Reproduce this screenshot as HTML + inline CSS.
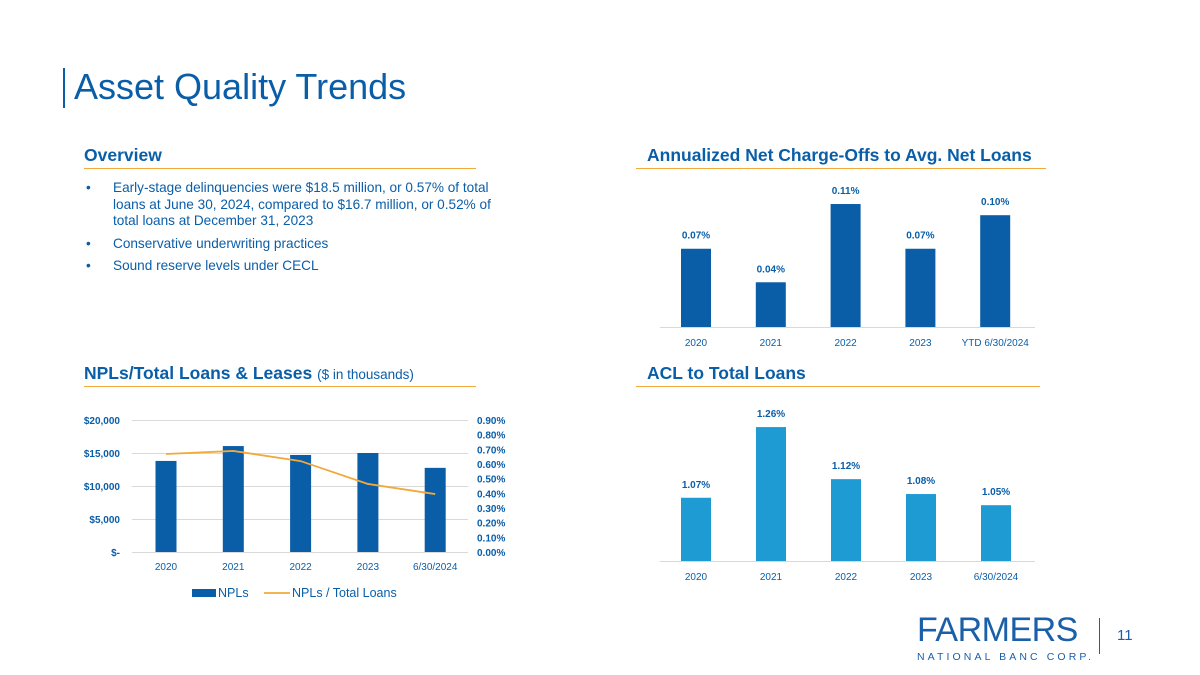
<!DOCTYPE html>
<html><head><meta charset="utf-8"><style>
body{margin:0;width:1200px;height:675px;background:#fff;font-family:"Liberation Sans",sans-serif;position:relative;overflow:hidden}
.a{position:absolute}
h1{position:absolute;left:74px;top:66px;margin:0;font-weight:normal;font-size:36px;color:#0a5ea8}
.sec{position:absolute;font-weight:bold;font-size:17.5px;color:#0a5ea8}
.rule{position:absolute;height:1px;background:#f2a93b}
ul{position:absolute;left:86px;top:180px;margin:0;padding:0;list-style:none;color:#0a5ea8;font-size:13.6px;width:430px}
li{position:relative;padding-left:27px;line-height:16.5px;margin-bottom:6px}
li:before{content:"•";position:absolute;left:0}
svg text{font-family:"Liberation Sans",sans-serif}
</style></head><body>
<div class="a" style="left:63px;top:68px;width:2px;height:40px;background:#0a5ea8"></div>
<h1>Asset Quality Trends</h1>
<div class="sec" style="left:84px;top:145px">Overview</div>
<div class="rule" style="left:84px;top:168px;width:392px"></div>
<ul>
<li>Early-stage delinquencies were $18.5 million, or 0.57% of total loans at June 30, 2024, compared to $16.7 million, or 0.52% of total loans at December 31, 2023</li>
<li>Conservative underwriting practices</li>
<li>Sound reserve levels under CECL</li>
</ul>
<div class="sec" style="left:647px;top:145px">Annualized Net Charge-Offs to Avg. Net Loans</div>
<div class="rule" style="left:636px;top:168px;width:410px"></div>
<div class="sec" style="left:84px;top:363px">NPLs/Total Loans &amp; Leases <span style="font-weight:normal;font-size:13.5px">($ in thousands)</span></div>
<div class="rule" style="left:84px;top:386px;width:392px"></div>
<div class="sec" style="left:647px;top:363px">ACL to Total Loans</div>
<div class="rule" style="left:636px;top:386px;width:404px"></div>
<svg class="a" style="left:0;top:0" width="1200" height="675" id="svg"></svg>
<div class="a" style="left:917px;top:612px;color:#1a5fa8">
<div style="font-size:34px;letter-spacing:-0.5px;line-height:36px">FARMERS</div>
<div style="font-size:10.5px;letter-spacing:3.1px;margin-top:3px">NATIONAL BANC CORP.</div></div>
<div class="a" style="left:1099px;top:618px;width:1px;height:36px;background:#1a5fa8"></div>
<div class="a" style="left:1117px;top:627px;font-size:15px;color:#1a5fa8">11</div>
<script>
const ncoCats=["2020","2021","2022","2023","YTD 6/30/2024"];
const ncoVals=[0.07,0.04,0.11,0.07,0.10];
const nplCats=["2020","2021","2022","2023","6/30/2024"];
const nplVals=[13800,16050,14700,15000,12750];
const nplRatio=[0.668,0.689,0.62,0.464,0.395];
const nplLeftTicks=["$-","$5,000","$10,000","$15,000","$20,000"];
const nplRightTicks=["0.00%","0.10%","0.20%","0.30%","0.40%","0.50%","0.60%","0.70%","0.80%","0.90%"];
const aclCats=["2020","2021","2022","2023","6/30/2024"];
const aclVals=[1.07,1.26,1.12,1.08,1.05];
const NS="http://www.w3.org/2000/svg",svg=document.getElementById('svg');
function mk(t,a,txt){const e=document.createElementNS(NS,t);for(const k in a)e.setAttribute(k,a[k]);if(txt!==undefined)e.textContent=txt;svg.appendChild(e);return e;}
const ncoX=i=>696+i*74.8, ncoY=v=>327-v*1118;
let e=mk('line',{x1:660,x2:1035,y1:327.5,y2:327.5,stroke:'#d9d9d9'});

ncoVals.forEach((v,i)=>{
 e=mk('rect',{x:ncoX(i)-15,y:ncoY(v),width:30,height:327-ncoY(v),fill:'#0a5ea8'});
 
 e=mk('text',{x:ncoX(i),y:ncoY(v)-10,'text-anchor':'middle','font-size':10,'font-weight':'bold',fill:'#0a5ea8'},v.toFixed(2)+'%');
 
 e=mk('text',{x:ncoX(i),y:346,'text-anchor':'middle','font-size':10,fill:'#0a5ea8'},ncoCats[i]);
 
});
const nX=i=>166+i*67.3, nY=v=>552-v/20000*132, rY=v=>552-v/0.9*132;
nplLeftTicks.forEach((t,i)=>{
 const y=nY(i*5000);
 e=mk('line',{x1:132,x2:468,y1:y+.5,y2:y+.5,stroke:'#d9d9d9'});
 
 e=mk('text',{x:120,y:y+4,'text-anchor':'end','font-size':10,'font-weight':'bold',fill:'#0a5ea8'},t);
 
});
nplRightTicks.forEach((t,i)=>{
 e=mk('text',{x:477,y:rY(i*0.1)+4,'font-size':10,'font-weight':'bold',fill:'#0a5ea8'},t);
 
});
nplVals.forEach((v,i)=>{
 e=mk('rect',{x:nX(i)-10.5,y:nY(v),width:21,height:552-nY(v),fill:'#0a5ea8'});
 
 e=mk('text',{x:nX(i),y:570,'text-anchor':'middle','font-size':10,fill:'#0a5ea8'},nplCats[i]);
 
});
let d='';nplRatio.forEach((v,i)=>{d+=(i?'L':'M')+nX(i)+' '+rY(v);});
e=mk('path',{d:d,fill:'none',stroke:'#f2a93b','stroke-width':1.8});

e=mk('rect',{x:192,y:589,width:24,height:8,fill:'#0a5ea8'});

e=mk('text',{x:218,y:597,'font-size':12.5,fill:'#0a5ea8'},'NPLs');

e=mk('line',{x1:264,x2:290,y1:593,y2:593,stroke:'#f2a93b','stroke-width':1.8});

e=mk('text',{x:292,y:597,'font-size':12.5,fill:'#0a5ea8'},'NPLs / Total Loans');

const aX=i=>696+i*75, aY=v=>561-(v-0.9)*372;
e=mk('line',{x1:660,x2:1035,y1:561.5,y2:561.5,stroke:'#d9d9d9'});

aclVals.forEach((v,i)=>{
 e=mk('rect',{x:aX(i)-15,y:aY(v),width:30,height:561-aY(v),fill:'#1f9bd4'});
 
 e=mk('text',{x:aX(i),y:aY(v)-10,'text-anchor':'middle','font-size':10,'font-weight':'bold',fill:'#0a5ea8'},v.toFixed(2)+'%');
 
 e=mk('text',{x:aX(i),y:580,'text-anchor':'middle','font-size':10,fill:'#0a5ea8'},aclCats[i]);
 
});
</script>
</body></html>
